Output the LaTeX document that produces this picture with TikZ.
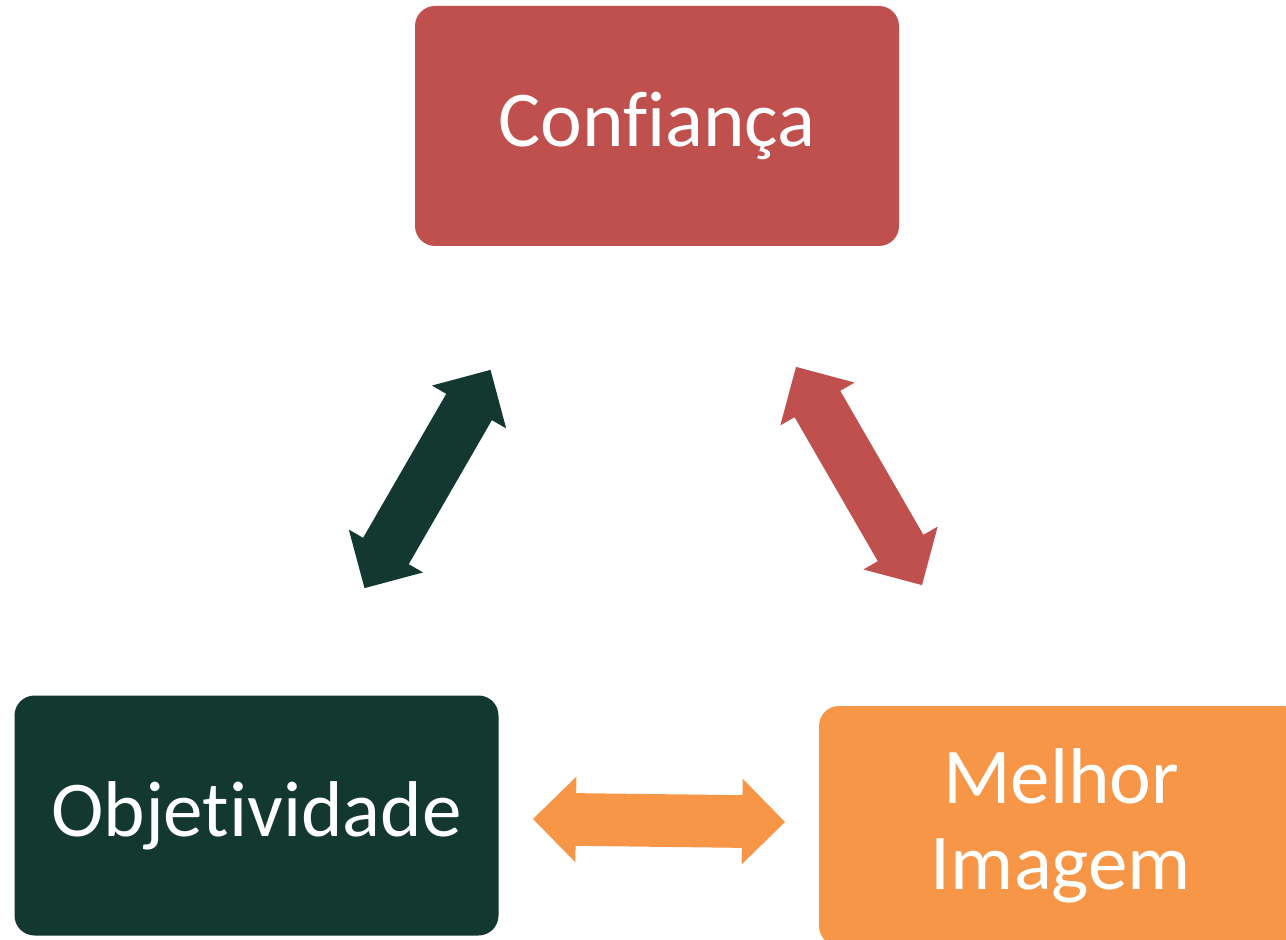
\documentclass[tikz,border=0pt]{standalone}
\usepackage{fontspec}
\setmainfont{Carlito}[Ligatures={NoCommon,NoRare}]
\usepackage{xcolor}
\definecolor{ConfRed}   {RGB}{192, 80,  77}
\definecolor{ObjGreen}  {RGB}{18,  56,  48}
\definecolor{ImgOrange} {RGB}{247, 150, 70}
\usepackage{tikz}
\usetikzlibrary{
  shapes.arrows,
  positioning
}

\begin{document}
\begin{tikzpicture}[
  box/.style={
    rounded corners=0.4cm,
    align=center, text=white,
    font=\fontsize{45}{49}\selectfont,
    minimum width=9.68cm,
    minimum height=4.8cm},
  dblarrow/.style={
    double arrow,
    inner xsep=0pt, inner ysep=0.52cm,
    minimum height=5.04cm,
    minimum width=1.7cm,
    double arrow head extend=0.33cm,
    double arrow tip angle=90}
]
\path[use as bounding box, clip] (0,0) rectangle (25.72,-18.8);

\node[box, fill=ConfRed] (conf) at (13.14,-2.52)
  {Confiança};
\node[box, fill=ObjGreen] (obj) at (5.13,-16.31)
  {Objetividade};
\node[box, fill=ImgOrange] (img) at (21.22,-16.52)
  {Melhor\\Imagem};

\node[dblarrow, fill=ObjGreen, rotate=60]
  (aco) at (8.55,-9.58) {};
\node[dblarrow, fill=ConfRed, rotate=-60]
  (aci) at (17.18,-9.52) {};
\node[dblarrow, fill=ImgOrange, rotate=-0.7]
  (aoi) at (13.18,-16.41) {};

\end{tikzpicture}
\end{document}
